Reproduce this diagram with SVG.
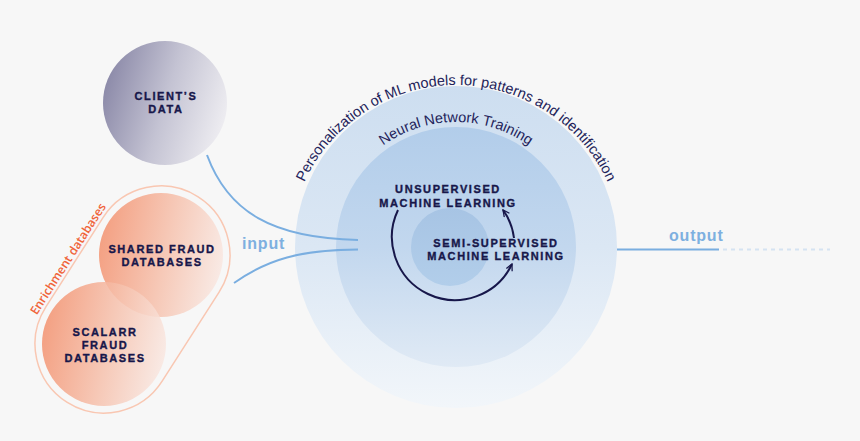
<svg xmlns="http://www.w3.org/2000/svg" width="860" height="441" viewBox="0 0 860 441">
<defs>
<linearGradient id="gClient" x1="0" y1="0.35" x2="1" y2="0.65">
<stop offset="0" stop-color="#8b89a8"/>
<stop offset="0.5" stop-color="#c4c3d3"/>
<stop offset="1" stop-color="#efeef2"/>
</linearGradient>
<linearGradient id="gOrange" x1="0" y1="0.4" x2="1" y2="0.6">
<stop offset="0" stop-color="#f3916e"/>
<stop offset="0.55" stop-color="#f6c2ae"/>
<stop offset="1" stop-color="#f9e8e2"/>
</linearGradient>
<linearGradient id="gOuter" x1="0" y1="0" x2="0" y2="1">
<stop offset="0" stop-color="#cddef0"/>
<stop offset="0.5" stop-color="#dbe7f4"/>
<stop offset="1" stop-color="#f2f6fa"/>
</linearGradient>
<linearGradient id="gMid" x1="0" y1="0" x2="0" y2="1">
<stop offset="0" stop-color="#b2cdea"/>
<stop offset="0.5" stop-color="#c2d7ee"/>
<stop offset="1" stop-color="#e0eaf5"/>
</linearGradient>
<linearGradient id="gInner" x1="0" y1="0" x2="0" y2="1">
<stop offset="0" stop-color="#a7c4e4"/>
<stop offset="1" stop-color="#b2ceea"/>
</linearGradient>
<marker id="chev" viewBox="0 0 10 10" refX="9" refY="5" markerWidth="8" markerHeight="8" markerUnits="userSpaceOnUse" orient="auto">
<path d="M1,1 L9,5 L1,9" fill="none" stroke="#17174a" stroke-width="1.6"/>
</marker>
<path id="arcOuter" d="M289,252 A167,167 0 0 1 623,252"/>
<path id="arcMid" d="M331,247 A125,125 0 0 1 581,247"/>
</defs>
<style>
.cap{font-family:"Liberation Sans",Arial,sans-serif;font-weight:bold;font-size:11px;letter-spacing:1.6px;fill:#17174a;stroke:#17174a;stroke-width:0.35px;text-anchor:middle}
.arc{font-family:"Liberation Sans",Arial,sans-serif;font-size:14.5px;fill:#23235a}
.io{font-family:"Liberation Sans",Arial,sans-serif;font-weight:bold;font-size:16px;letter-spacing:0.8px;fill:#7eb0e0}
.flow{fill:none;stroke:#7aaee0;stroke-width:2}
</style>
<rect width="860" height="441" fill="#f7f7f7"/>

<g id="training">
<circle cx="456" cy="247" r="161" fill="url(#gOuter)"/>
<circle cx="456" cy="247" r="120" fill="url(#gMid)"/>
<circle cx="450" cy="247" r="39" fill="url(#gInner)"/>
<text class="arc"><textPath href="#arcOuter" startOffset="50%" text-anchor="middle">Personalization of ML models for patterns and identification</textPath></text>
<text class="arc"><textPath href="#arcMid" startOffset="50%" text-anchor="middle">Neural Network Training</textPath></text>
</g>

<g id="unsupervised">
<text class="cap" x="448" y="193">UNSUPERVISED</text>
<text class="cap" x="448" y="207">MACHINE LEARNING</text>
</g>

<g id="semi-supervised">
<text class="cap" x="496" y="247">SEMI-SUPERVISED</text>
<text class="cap" x="496" y="260">MACHINE LEARNING</text>
</g>

<g id="client-data">
<circle cx="165" cy="103" r="62" fill="url(#gClient)"/>
<text class="cap" x="166" y="100">CLIENT’S</text>
<text class="cap" x="166" y="113">DATA</text>
</g>

<g id="enrichment">
<rect x="-121.85" y="-69" width="243.7" height="138" rx="69" fill="none" stroke="#f9c7b2" stroke-width="1.5" transform="translate(132.5,299.5) rotate(122.6)"/>
<text x="0" y="0" transform="translate(71.5,261) rotate(-57.4)" font-family="'Open Sans','Liberation Sans',Arial,sans-serif" font-weight="600" font-size="12" fill="#f0643a" text-anchor="middle">Enrichment databases</text>
</g>

<g id="shared-fraud">
<circle cx="161" cy="255" r="62" fill="url(#gOrange)" fill-opacity="0.85"/>
<text class="cap" x="162" y="253">SHARED FRAUD</text>
<text class="cap" x="162" y="266">DATABASES</text>
</g>

<g id="scalarr-fraud">
<circle cx="104" cy="344" r="62" fill="url(#gOrange)" fill-opacity="0.85"/>
<text class="cap" x="105" y="336">SCALARR</text>
<text class="cap" x="105" y="349">FRAUD</text>
<text class="cap" x="105" y="362">DATABASES</text>
</g>

<g id="connectors">
<path class="flow" d="M207,155 C228,212 272,238 358,240"/>
<path class="flow" d="M234,283 C268,259 300,250 358,249.5"/>
<text class="io" x="242" y="249">input</text>
<path class="flow" d="M617,249.5 L719,249.5"/>
<path d="M723,249.5 L830,249.5" fill="none" stroke="#d5e3f2" stroke-width="2" stroke-dasharray="4,4"/>
<text class="io" x="669" y="241">output</text>
<path d="M398,210 A63,63 0 1 0 512,264" fill="none" stroke="#17174a" stroke-width="2" marker-end="url(#chev)"/>
<path d="M514,238 Q512,222 503,210" fill="none" stroke="#17174a" stroke-width="2" marker-end="url(#chev)"/>
</g>
</svg>
